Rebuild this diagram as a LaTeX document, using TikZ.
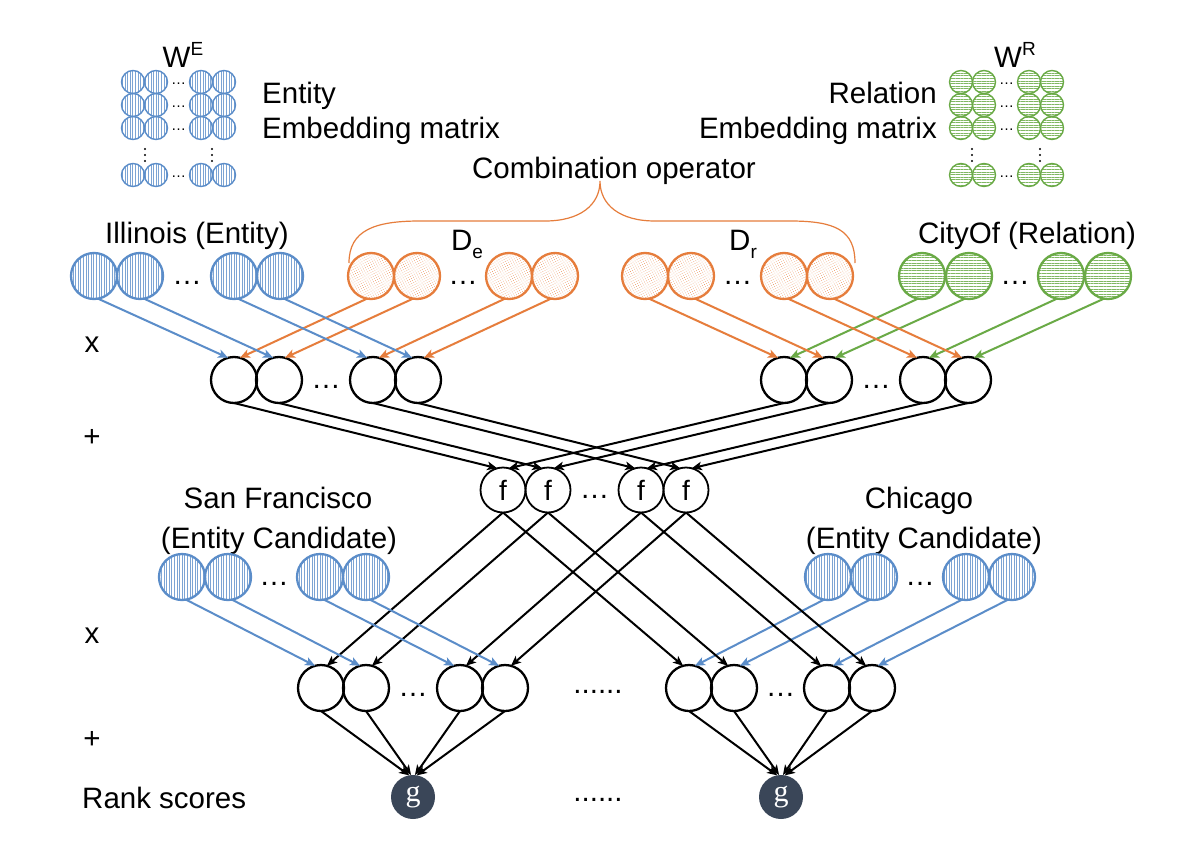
\documentclass[tikz,border=0pt]{standalone}
\usepackage{fontspec}
\setmainfont{Liberation Sans}
\newfontfamily\gfont{Liberation Serif}
\usetikzlibrary{arrows.meta,patterns.meta}
\definecolor{eblue}{RGB}{91,141,201}
\definecolor{eorange}{RGB}{230,125,60}
\definecolor{egreen}{RGB}{106,170,70}
\definecolor{gnavy}{RGB}{58,70,88}
\tikzset{
  lbl/.style={font=\fontsize{29.5}{34}\selectfont, inner sep=0pt},
  bigc/.style={circle, minimum size=46pt, inner sep=0pt, outer sep=0pt, line width=2.3pt},
  smallc/.style={circle, minimum size=23pt, inner sep=0pt, outer sep=0pt, line width=1.4pt},
  bluefill/.style={draw=eblue, pattern={Lines[angle=90,distance=2.6pt,line width=0.55pt]}, pattern color=eblue!80},
  orangefill/.style={draw=eorange, pattern={Dots[distance=2.3pt,radius=0.42pt,angle=30]}, pattern color=eorange!85},
  greenfill/.style={draw=egreen, pattern={Lines[angle=0,distance=2.6pt,line width=0.55pt]}, pattern color=egreen!85},
  ent/.style={bigc, bluefill},
  dvec/.style={bigc, orangefill},
  relc/.style={bigc, greenfill},
  prod/.style={bigc, draw=black},
  sment/.style={smallc, bluefill},
  smrel/.style={smallc, greenfill},
  fnode/.style={circle, minimum size=45pt, inner sep=0pt, outer sep=0pt, line width=1.8pt, draw=black, font=\fontsize{28}{30}\selectfont},
  gnode/.style={circle, minimum size=44pt, inner sep=0pt, outer sep=0pt, fill=gnavy, text=white, font=\gfont\fontsize{30}{32}\selectfont},
  dotsl/.style={font=\fontsize{29.5}{34}\selectfont, inner sep=0pt},
  smdots/.style={font=\fontsize{15}{16}\selectfont, inner sep=0pt},
  arr/.style={-{Stealth[length=10pt,width=8.5pt,inset=2.5pt]}, line width=2pt},
  barr/.style={arr, draw=black},
  bluearr/.style={arr, draw=eblue},
  orangearr/.style={arr, draw=eorange},
  greenarr/.style={arr, draw=egreen},
}
\newcommand{\supE}[1]{\raisebox{0.42em}{\fontsize{19}{20}\selectfont #1}}
\newcommand{\subE}[1]{\raisebox{-0.28em}{\fontsize{19}{20}\selectfont #1}}
\begin{document}
\begin{tikzpicture}[x=1pt,y=-1pt]
\fill[white] (0,0) rectangle (1190,840);
\useasboundingbox (0,0) rectangle (1190,840);

% ---- embedding matrices ----
\foreach \r/\yy in {1/82,2/105,3/128,4/175} {
  \foreach \c/\xx in {1/133,2/156,3/201,4/224} \node[sment] (we\r\c) at (\xx,\yy) {};
  \node[smdots] (wedots\r) at (178.5,\yy+2) {…};
  \foreach \c/\xx in {1/961,2/984,3/1029,4/1052} \node[smrel] (wr\r\c) at (\xx,\yy) {};
  \node[smdots] (wrdots\r) at (1006.5,\yy+2) {…};
}
\foreach \yy in {149,155,161} {
  \fill (145,\yy) circle (1.1pt);
  \fill (212,\yy) circle (1.1pt);
  \fill (972,\yy) circle (1.1pt);
  \fill (1040,\yy) circle (1.1pt);
}
\node[lbl, anchor=base] (wel) at (183,68) {W\supE{E}};
\node[lbl, anchor=base] (wrl) at (1015,68) {W\supE{R}};
\node[lbl, anchor=base west] (entl) at (262,103) {Entity};
\node[lbl, anchor=base west] (entl2) at (262,138) {Embedding matrix};
\node[lbl, anchor=base east] (rell) at (937,103) {Relation};
\node[lbl, anchor=base east] (rell2) at (937,138) {Embedding matrix};
\node[lbl, anchor=base] (comb) at (614,178) {Combination operator};

% ---- brace ----
\coordinate (tip) at (600,181);
\draw[eorange, line width=1.2pt] (349,263) .. controls (349,230) and (375,221) .. (420,221) -- (545,221) .. controls (580,221) and (600,205) .. (tip) .. controls (600,205) and (620,221) .. (655,221) -- (790,221) .. controls (835,221) and (855,230) .. (855,263);

% ---- row 1 ----
\node[lbl, anchor=base] (illl) at (197,243) {Illinois (Entity)};
\node[lbl, anchor=base] (del) at (467,250) {D\subE{e}};
\node[lbl, anchor=base] (drl) at (743,250) {D\subE{r}};
\node[lbl, anchor=base] (cityl) at (1027,243) {CityOf (Relation)};
\foreach \i/\xx in {1/94,2/140,3/234,4/280} \node[ent] (e\i) at (\xx,276) {};
\foreach \i/\xx in {1/371,2/417,3/509,4/555} \node[dvec] (de\i) at (\xx,276) {};
\foreach \i/\xx in {1/645,2/691,3/784,4/830} \node[dvec] (dr\i) at (\xx,276) {};
\foreach \i/\xx in {1/922,2/969,3/1061,4/1108} \node[relc] (r\i) at (\xx,276) {};
\node[dotsl] (d1) at (187,283) {…};
\node[dotsl] (d2) at (463,283) {…};
\node[dotsl] (d3) at (737.5,283) {…};
\node[dotsl] (d4) at (1015,283) {…};

% ---- row 2 ----
\foreach \i/\xx in {1/234,2/279,3/373,4/418} \node[prod] (p\i) at (\xx,380) {};
\foreach \i/\xx in {1/784,2/829,3/923,4/968} \node[prod] (q\i) at (\xx,380) {};
\node[dotsl] (d5) at (326,387) {…};
\node[dotsl] (d6) at (876,387) {…};

% ---- f row ----
\foreach \i/\xx in {1/503,2/548,3/641,4/686} \node[fnode] (f\i) at (\xx,490) {f};
\node[dotsl] (d7) at (594.5,497) {…};

% ---- candidates ----
\node[lbl, anchor=base] (sfl) at (278,508) {San Francisco};
\node[lbl, anchor=base] (sfl2) at (279,548) {(Entity Candidate)};
\node[lbl, anchor=base] (chl) at (919,508) {Chicago};
\node[lbl, anchor=base] (chl2) at (924,548) {(Entity Candidate)};
\foreach \i/\xx in {1/182,2/228,3/320,4/366} \node[ent] (sf\i) at (\xx,577) {};
\foreach \i/\xx in {1/828,2/874,3/966,4/1012} \node[ent] (ch\i) at (\xx,577) {};
\node[dotsl] (d8) at (274,584) {…};
\node[dotsl] (d9) at (920,584) {…};

% ---- row 5 ----
\foreach \i/\xx in {1/321,2/366,3/460,4/505} \node[prod] (s\i) at (\xx,688) {};
\foreach \i/\xx in {1/689,2/734,3/827,4/872} \node[prod] (t\i) at (\xx,688) {};
\node[dotsl] (d10) at (413,695) {…};
\node[dotsl] (d11) at (780.5,695) {…};
\node[dotsl] (d12) at (598,692) {......};

% ---- g row ----
\node[gnode] (gl) at (413,797) {g};
\node[gnode] (gr) at (781,797) {g};
\node[dotsl] (d13) at (598,800) {......};

% ---- left labels ----
\node[lbl, anchor=base] (x1) at (92,352) {x};
\node[lbl] (plus1) at (92,438) {+};
\node[lbl, anchor=base] (x2) at (92,643) {x};
\node[lbl] (plus2) at (92,740) {+};
\node[lbl, anchor=base west] (rank) at (82,808) {Rank scores};

% ---- connectors ----
\foreach \i in {1,...,4} {
  \draw[bluearr] (e\i.-80) -- (p\i.105);
  \draw[orangearr] (de\i.-100) -- (p\i.75);
  \draw[orangearr] (dr\i.-80) -- (q\i.105);
  \draw[greenarr] (r\i.-100) -- (q\i.75);
  \draw[barr] (p\i.south) -- (f\i.105);
  \draw[barr] (q\i.south) -- (f\i.75);
  \draw[barr] (f\i.south) -- (s\i.75);
  \draw[barr] (f\i.south) -- (t\i.105);
  \draw[bluearr] (sf\i.-80) -- (s\i.105);
  \draw[bluearr] (ch\i.-100) -- (t\i.75);
}
\draw[barr] (s1.south) -- (gl.100);
\draw[barr] (s2.south) -- (gl.95);
\draw[barr] (s3.south) -- (gl.85);
\draw[barr] (s4.south) -- (gl.80);
\draw[barr] (t1.south) -- (gr.100);
\draw[barr] (t2.south) -- (gr.95);
\draw[barr] (t3.south) -- (gr.85);
\draw[barr] (t4.south) -- (gr.80);
\end{tikzpicture}
\end{document}
